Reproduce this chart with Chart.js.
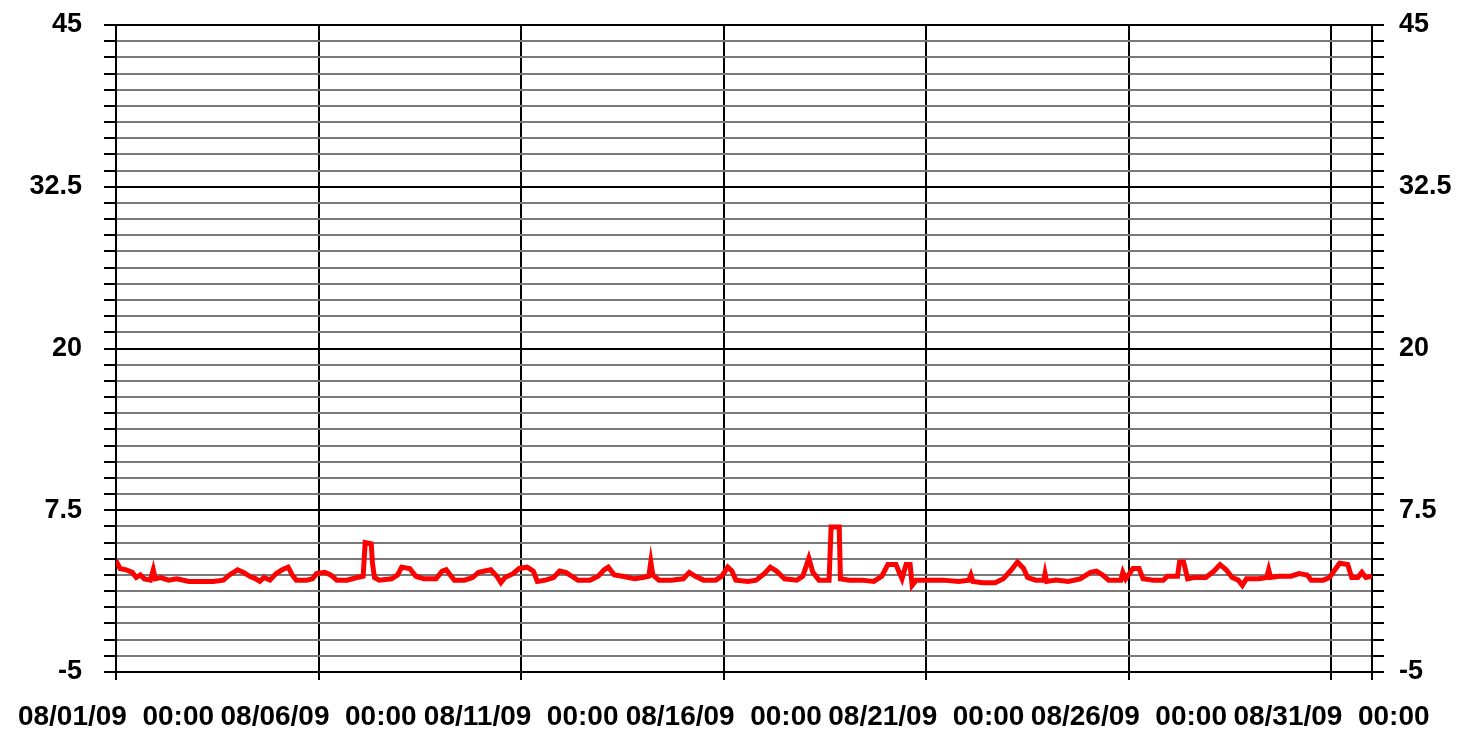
<!DOCTYPE html>
<html>
<head>
<meta charset="utf-8">
<script src="https://cdn.jsdelivr.net/npm/chart.js@4"></script>
<style>
  html, body { margin: 0; padding: 0; background: #fff; }
  canvas { display: block; }
</style>
</head>
<body>
<canvas id="myChart" width="1459" height="731"></canvas>
<script>
// days since 08/01/09 00:00
const days = [
  0.00, 0.05, 0.10, 0.25, 0.40, 0.50, 0.60, 0.70, 0.85, 0.92, 0.97, 1.10, 1.30, 1.50, 1.80,
  2.10, 2.40, 2.65, 2.80, 3.00, 3.15, 3.30, 3.45, 3.55, 3.65, 3.80, 3.95, 4.10, 4.25, 4.35,
  4.45, 4.70, 4.85, 4.95, 5.15, 5.30, 5.45, 5.70, 5.95, 6.10, 6.15, 6.30, 6.33, 6.38, 6.50,
  6.80, 6.95, 7.05, 7.25, 7.40, 7.60, 7.90, 8.05, 8.15, 8.25, 8.35, 8.60, 8.80, 8.95, 9.10,
  9.25, 9.40, 9.50, 9.60, 9.80, 9.95, 10.15, 10.30, 10.40, 10.60, 10.80, 10.95, 11.10, 11.25, 11.40,
  11.70, 11.90, 12.05, 12.15, 12.30, 12.50, 12.80, 13.00, 13.15, 13.20, 13.25, 13.40, 13.70, 14.00, 14.15,
  14.30, 14.50, 14.80, 14.95, 15.10, 15.20, 15.30, 15.60, 15.80, 16.00, 16.15, 16.30, 16.50, 16.80, 16.95,
  17.10, 17.20, 17.35, 17.60, 17.65, 17.85, 17.88, 18.10, 18.40, 18.70, 18.90, 19.05, 19.25, 19.40, 19.50,
  19.60, 19.65, 19.75, 20.00, 20.40, 20.80, 21.05, 21.10, 21.15, 21.40, 21.70, 21.90, 22.10, 22.25, 22.40,
  22.50, 22.70, 22.90, 22.93, 22.97, 23.20, 23.50, 23.80, 24.05, 24.20, 24.35, 24.50, 24.80, 24.85, 24.92,
  25.10, 25.25, 25.35, 25.60, 25.85, 25.95, 26.20, 26.25, 26.35, 26.45, 26.60, 26.90, 27.10, 27.25, 27.40,
  27.55, 27.70, 27.80, 27.90, 28.20, 28.40, 28.45, 28.50, 28.70, 29.00, 29.20, 29.40, 29.50, 29.80, 29.95,
  30.20, 30.40, 30.50, 30.65, 30.75, 30.85, 31.00
];
const temps = [
  3.6, 3.3, 3.0, 2.9, 2.7, 2.3, 2.5, 2.2, 2.1, 2.9, 2.2, 2.3, 2.1, 2.2, 2.0,
  2.0, 2.0, 2.1, 2.5, 2.9, 2.7, 2.4, 2.2, 2.0, 2.3, 2.1, 2.6, 2.9, 3.1, 2.5,
  2.1, 2.1, 2.2, 2.6, 2.7, 2.5, 2.1, 2.1, 2.3, 2.4, 5.0, 4.9, 3.4, 2.3, 2.1,
  2.2, 2.5, 3.1, 3.0, 2.4, 2.2, 2.2, 2.8, 2.9, 2.5, 2.1, 2.1, 2.3, 2.7, 2.8,
  2.9, 2.4, 1.9, 2.3, 2.6, 3.0, 3.1, 2.8, 2.0, 2.1, 2.3, 2.8, 2.7, 2.4, 2.1,
  2.1, 2.4, 2.9, 3.1, 2.5, 2.4, 2.2, 2.3, 2.4, 3.5, 2.5, 2.1, 2.1, 2.2, 2.7,
  2.4, 2.1, 2.1, 2.4, 3.1, 2.8, 2.1, 2.0, 2.1, 2.6, 3.1, 2.8, 2.2, 2.1, 2.4,
  3.8, 2.7, 2.1, 2.1, 6.2, 6.2, 2.2, 2.1, 2.1, 2.0, 2.4, 3.3, 3.3, 2.2, 3.3,
  3.3, 1.7, 2.1, 2.1, 2.1, 2.0, 2.1, 2.5, 2.0, 1.9, 1.9, 2.2, 2.9, 3.5, 3.0,
  2.3, 2.1, 2.1, 2.6, 2.0, 2.1, 2.0, 2.2, 2.7, 2.8, 2.5, 2.1, 2.1, 2.7, 2.2,
  3.0, 3.0, 2.2, 2.1, 2.1, 2.4, 2.4, 3.5, 3.5, 2.2, 2.3, 2.3, 2.8, 3.3, 2.9,
  2.3, 2.1, 1.7, 2.2, 2.2, 2.3, 2.9, 2.3, 2.4, 2.4, 2.6, 2.5, 2.1, 2.1, 2.3,
  3.4, 3.3, 2.3, 2.3, 2.7, 2.3, 2.4
];
const xTickValues = [0, 5, 10, 15, 20, 25, 30, 31];
const xTickLabels = [
  "08/01/09  00:00",
  "08/06/09  00:00",
  "08/11/09  00:00",
  "08/16/09  00:00",
  "08/21/09  00:00",
  "08/26/09  00:00",
  "08/31/09  00:00",
  "",
];
const yTickLabels = [-5, 7.5, 20, 32.5, 45];

const isMajor = (v) => yTickLabels.some((t) => Math.abs(t - v) < 1e-6);
const fontFamily = "'Liberation Sans', Arial, sans-serif";

const yTicks = {
  stepSize: 1.25,
  color: "#000",
  font: { family: fontFamily, size: 27, weight: "bold" },
  autoSkip: false,
  callback: (v) => (isMajor(v) ? String(v) : ""),
};

const fitY = (w) => (s) => {
  s.width = w;
  s.paddingTop = 0;
  s.paddingBottom = 0;
};

const ctx = document.getElementById("myChart");

new Chart(ctx, {
  type: "line",
  data: {
    datasets: [
      {
        data: days.map((d, i) => ({ x: d, y: temps[i] })),
        borderColor: "#ff0000",
        borderWidth: 5,
        pointRadius: 0,
        tension: 0,
      },
    ],
  },
  options: {
    responsive: false,
    animation: false,
    layout: { padding: { top: 25, left: 0, right: 0, bottom: 0 } },
    plugins: {
      legend: { display: false },
      tooltip: { enabled: false },
    },
    scales: {
      x: {
        type: "linear",
        min: 0,
        max: 31,
        afterBuildTicks: (s) => { s.ticks = xTickValues.map((v) => ({ value: v })); },
        afterFit: (s) => {
          s.height = 59;
          s.paddingLeft = 0;
          s.paddingRight = 0;
        },
        ticks: {
          maxRotation: 0,
          autoSkip: false,
          color: "#000",
          font: { family: fontFamily, size: 28, weight: "bold" },
          padding: 20,
          callback: (v, i) => xTickLabels[i],
        },
        grid: {
          color: "#000",
          lineWidth: 2,
          tickLength: 8,
          tickColor: "#000",
        },
        border: { color: "#000", width: 2 },
      },
      y: {
        position: "left",
        min: -5,
        max: 45,
        afterFit: fitY(116),
        ticks: { ...yTicks, padding: 22 },
        grid: {
          color: (c) => (isMajor(c.tick.value) ? "#000" : "#7a7a7a"),
          lineWidth: 2,
          tickLength: 12,
          tickColor: "#000",
        },
        border: { color: "#000", width: 2 },
      },
      y2: {
        position: "right",
        min: -5,
        max: 45,
        afterFit: fitY(87),
        ticks: { ...yTicks, padding: 15 },
        grid: {
          drawOnChartArea: false,
          tickLength: 12,
          lineWidth: 2,
          tickColor: "#000",
        },
        border: { color: "#000", width: 2 },
      },
    },
  },
});
</script>
</body>
</html>
